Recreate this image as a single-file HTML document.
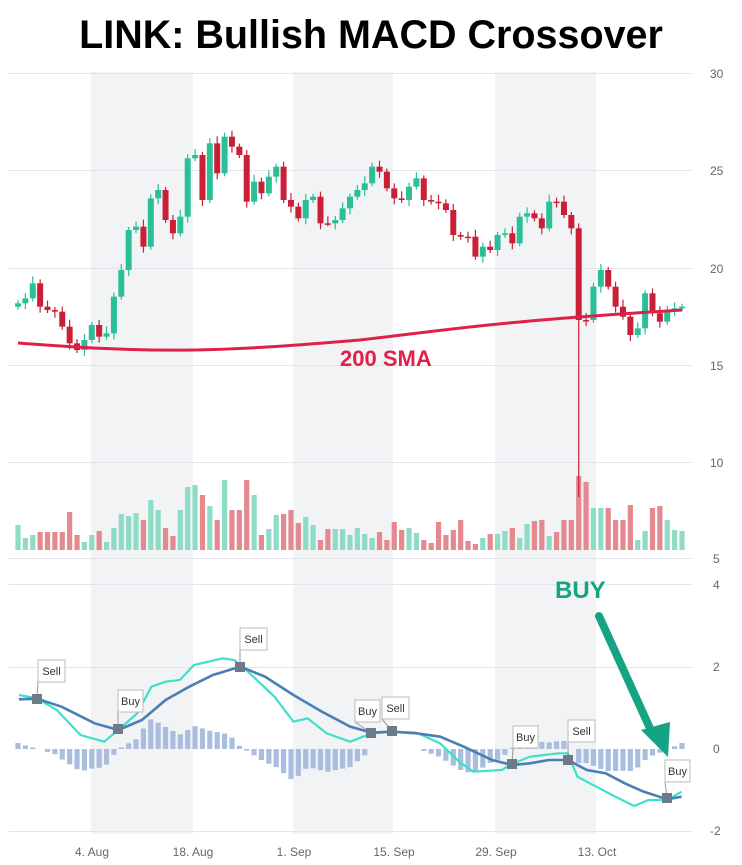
<!DOCTYPE html>
<html><head><meta charset="utf-8"><style>
body{margin:0;background:#fff;}
svg{display:block;font-family:"Liberation Sans",sans-serif;}
</style></head><body>
<svg id="s" width="742" height="865" viewBox="0 0 742 865" xmlns="http://www.w3.org/2000/svg">
<rect width="742" height="865" fill="#fff"/>
<text x="371" y="48" text-anchor="middle" font-size="39.5" font-weight="bold" fill="#000">LINK: Bullish MACD Crossover</text>
<rect x="91" y="72" width="102" height="762" fill="#f2f3f5"/>
<rect x="293" y="72" width="100" height="762" fill="#f2f3f5"/>
<rect x="495" y="72" width="101" height="762" fill="#f2f3f5"/>
<g stroke="#e3e5ea" stroke-width="1">
<line x1="9" x2="692" y1="73.5" y2="73.5"/><line x1="9" x2="692" y1="170.5" y2="170.5"/>
<line x1="9" x2="692" y1="268.5" y2="268.5"/><line x1="9" x2="692" y1="365.5" y2="365.5"/>
<line x1="9" x2="692" y1="462.5" y2="462.5"/><line x1="9" x2="692" y1="558.5" y2="558.5"/>
<line x1="9" x2="692" y1="584.5" y2="584.5"/><line x1="9" x2="692" y1="667.5" y2="667.5"/>
<line x1="9" x2="692" y1="831.5" y2="831.5"/>
</g>
<g font-size="12" fill="#666">
<text x="710" y="78">30</text><text x="710" y="175">25</text><text x="710" y="273">20</text>
<text x="710" y="370">15</text><text x="710" y="467">10</text><text x="713" y="563">5</text>
<text x="713" y="589">4</text><text x="713" y="671">2</text><text x="713" y="753">0</text><text x="710" y="835">-2</text>
</g>
<g font-size="12" fill="#666" text-anchor="middle">
<text x="92" y="856">4. Aug</text><text x="193" y="856">18. Aug</text><text x="294" y="856">1. Sep</text>
<text x="394" y="856">15. Sep</text><text x="496" y="856">29. Sep</text><text x="597" y="856">13. Oct</text>
</g>
<g id="vol"></g><g id="hist"></g><g id="cand"></g>
<path d="M18,343 C60,346 120,351 195,350 C250,349 300,345 360,340 C420,333 470,326 520,322 C570,317 620,314 682,310" fill="none" stroke="#e0204a" stroke-width="3"/>
<text x="340" y="366" font-size="22" font-weight="bold" fill="#e0204a">200 SMA</text>
<g id="macd"></g>
<text x="555" y="598" font-size="24" font-weight="bold" fill="#16a383">BUY</text>
<line x1="599" y1="616" x2="653" y2="735" stroke="#16a383" stroke-width="8" stroke-linecap="round"/>
<polygon points="641,730 670,722 668,757" fill="#16a383"/>
</svg>
<script>
const NS="http://www.w3.org/2000/svg";
function el(p,t,a){const e=document.createElementNS(NS,t);for(const k in a)e.setAttribute(k,a[k]);p.appendChild(e);return e;}
const zc=[730,715,670,740,750,755,800,850,870,840,795,830,820,710,630,510,500,560,415,390,480,520,470,295,285,420,250,340,230,260,285,425,365,400,350,320,420,440,475,420,410,490,490,480,445,410,390,370,320,335,385,415,420,380,355,420,425,430,450,525,530,530,590,560,570,525,520,550,470,460,475,505,425,425,465,505,780,780,680,630,680,740,770,825,805,700,760,785,750,745,740];
const N=zc.length, x0=18, dx=(682-18)/(N-1);
const cand=document.getElementById('cand'),vol=document.getElementById('vol'),hist=document.getElementById('hist');
const vh=[25,12,15,18,18,18,18,38,15,8,15,19,8,22,36,34,37,30,50,40,22,14,40,63,65,55,44,30,70,40,40,70,55,15,21,35,36,40,27,33,25,10,21,21,21,15,22,16,12,18,10,28,20,22,17,10,7,28,15,20,30,9,6,12,16,16,19,22,12,26,29,30,14,18,30,30,74,68,42,42,42,30,30,45,10,19,42,44,30,20,19,8];
let prev=zc[0]+10;
for(let i=0;i<N;i++){
 const x=x0+i*dx, o=prev, c=zc[i]; const yo=60+o/3, yc=60+c/3;
 const up=c<o; const col=up?"#2bbf98":"#c91f37";
 const top=Math.min(yo,yc), bot=Math.max(yo,yc);
 const wt=top-3-(i*7%5), wb=bot+3+(i*3%6);
 el(cand,'line',{x1:x,x2:x,y1:wt,y2:(i==76?497:wb),stroke:col,'stroke-width':1.2});
 el(cand,'rect',{x:x-3,y:top,width:6,height:Math.max(1.5,bot-top),fill:col});
 const h=vh[i%vh.length]||15;
 el(vol,'rect',{x:x-2.6,y:550-h,width:5.2,height:h,fill:up?"#8edcc6":"#e3898f"});
 prev=c;
}
function pts(a){return a.map(p=>[p[0]/2.113,460+p[1]/3]);}
const blue=pts([[40,718],[78,716],[130,740],[200,790],[250,810],[300,780],[350,720],[400,680],[450,645],[508,620],[560,650],[620,705],[680,755],[740,800],[785,818],[830,815],[880,820],[930,830],[980,860],[1040,900],[1082,915],[1120,910],[1160,900],[1200,900],[1240,930],[1280,940],[1320,970],[1360,995],[1410,1018],[1440,1010]]);
const cyan=pts([[40,705],[78,715],[120,750],[170,825],[220,845],[250,810],[290,760],[320,680],[350,665],[380,660],[410,615],[440,605],[470,595],[495,600],[520,630],[550,670],[580,710],[620,785],[650,775],[690,820],[740,845],[785,820],[830,815],[880,818],[930,850],[970,905],[1000,935],[1060,930],[1082,912],[1120,890],[1180,880],[1200,880],[1220,950],[1260,980],[1300,1010],[1340,1038],[1370,1020],[1410,1020],[1440,995]]);
function interp(a,x){for(let i=0;i<a.length-1;i++){if(x>=a[i][0]&&x<=a[i+1][0]){const t=(x-a[i][0])/(a[i+1][0]-a[i][0]);return a[i][1]+t*(a[i+1][1]-a[i][1]);}}return a[a.length-1][1];}
for(let i=0;i<N;i++){const x=x0+i*dx;const d=(interp(blue,x)-interp(cyan,x))*1.2;if(Math.abs(d)<1)continue;
 el(hist,'rect',{x:x-2.6,y:Math.min(749,749-d),width:5.2,height:Math.abs(d),fill:"#a9bedf"});}
const m=document.getElementById('macd');
el(m,'polyline',{points:cyan.map(p=>p.join(',')).join(' '),fill:'none',stroke:'#3fe0c8','stroke-width':2.2});
el(m,'polyline',{points:blue.map(p=>p.join(',')).join(' '),fill:'none',stroke:'#4a7fb5','stroke-width':2.6});
const mk=[[37,699,"Sell",38,660],[118,729,"Buy",118,690],[240,667,"Sell",240,628],[371,733,"Buy",355,700],[392,731,"Sell",382,697],[512,764,"Buy",513,726],[568,760,"Sell",568,720],[667,798,"Buy",665,760]];
for(const [x,y,t,lx,ly] of mk){
 const w=t=="Sell"?27:25;
 el(m,'line',{x1:x,y1:y,x2:lx,y2:ly+22,stroke:'#999','stroke-width':1});
 el(m,'rect',{x:lx,y:ly,width:w,height:22,fill:'#fff',stroke:'#bbb'});
 const tx=el(m,'text',{x:lx+w/2,y:ly+15,'font-size':11,'text-anchor':'middle',fill:'#333'});tx.textContent=t;
 el(m,'rect',{x:x-5,y:y-5,width:10,height:10,fill:'#6d7a88'});
}
</script>
</body></html>
